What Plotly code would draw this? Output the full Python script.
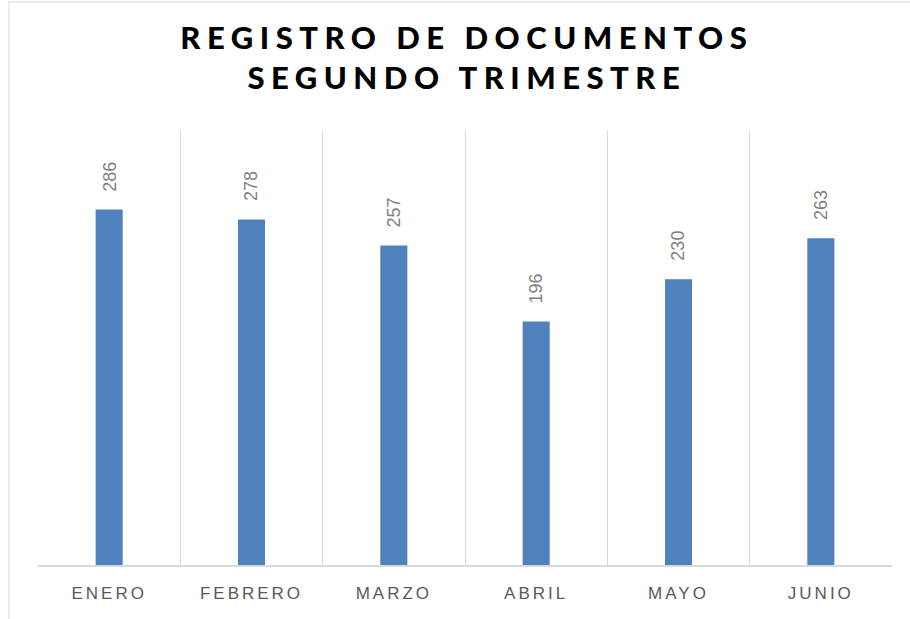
import plotly.graph_objects as go

meses = ["ENERO", "FEBRERO", "MARZO", "ABRIL", "MAYO", "JUNIO"]
documentos = [286, 278, 257, 196, 230, 263]
titulo = "REGISTRO DE DOCUMENTOS<br>SEGUNDO TRIMESTRE"

fig = go.Figure()
fig.add_trace(go.Bar(
    x=meses, y=documentos, width=0.19,
    marker=dict(color="#4F81BD", line=dict(width=0)),
    hoverinfo="x+y",
))

for m, v in zip(meses, documentos):
    fig.add_annotation(x=m, y=v, text=str(v), textangle=-90, showarrow=False,
                       yanchor="bottom", yshift=16,
                       font=dict(family="Liberation Sans", size=18, color="#7F7F7F"))

fig.update_layout(
    width=910, height=619,
    margin=dict(l=38, r=18, t=130, b=54),
    paper_bgcolor="white", plot_bgcolor="white",
    showlegend=False,
    bargap=0.8,
    title=dict(text=titulo, x=0.513, xanchor="center", y=1 - 49 / 619, yanchor="top",
               yref="container",
               font=dict(family="Lato", size=31, color="#000000", weight=900)),
    xaxis=dict(
        tickson="boundaries", showgrid=True, gridcolor="#D9D9D9", gridwidth=1,
        showline=True, linecolor="#D9D9D9", linewidth=1.5,
        ticks="", ticklabelstandoff=12,
        tickfont=dict(family="Liberation Sans", size=17, color="#595959"),
        range=[-0.5, 5.5], fixedrange=True,
    ),
    yaxis=dict(range=[0, 350], showgrid=False, showticklabels=False, zeroline=False,
               showline=False, fixedrange=True),
    shapes=[dict(type="rect", xref="paper", yref="paper",
                 x0=(9 - 38) / 854, x1=1.2, y0=-0.3, y1=(565 - 2) / 435,
                 line=dict(color="#D9D9D9", width=1), fillcolor="rgba(0,0,0,0)", layer="below")],
)

post = ("document.body.style.margin='0';"
        "document.querySelectorAll('.gtitle').forEach(function(e){e.style.letterSpacing='6.5px';});"
        "document.querySelectorAll('.xtick text').forEach(function(e){e.style.letterSpacing='3px';});")
fig.write_html("out.html", post_script=post, config={"displayModeBar": False})
